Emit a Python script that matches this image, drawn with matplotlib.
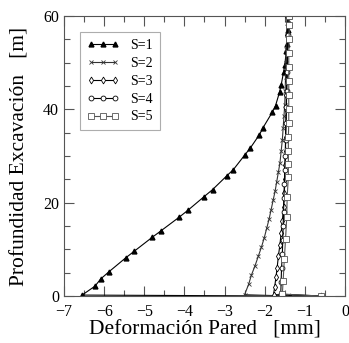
import matplotlib
matplotlib.use('Agg')
import matplotlib.pyplot as plt
from matplotlib.ticker import MultipleLocator

plt.rcParams['font.family'] = ['Liberation Serif', 'DejaVu Serif']

# S=1
x1 = [-1.38, -6.55, -6.23, -6.08, -5.88, -5.46, -5.25, -4.80, -4.58, -4.13, -3.91,
      -3.51, -3.30, -2.94, -2.78, -2.49, -2.36, -2.13, -2.04, -1.81, -1.73,
      -1.63, -1.59, -1.53, -1.50, -1.46, -1.44, -1.41, -1.40, -1.39]
y1 = [0.0, 0.2, 2.1, 3.7, 5.2, 8.2, 9.6, 12.6, 14.0, 16.9, 18.4,
      21.3, 22.8, 25.8, 27.1, 30.3, 31.7, 34.6, 36.1, 39.4, 40.8,
      43.7, 45.2, 48.0, 49.5, 52.5, 54.0, 57.0, 58.5, 60.0]

# S=2
x2 = [-1.45, -2.50, -2.40, -2.33, -2.24, -2.16, -2.08, -2.01, -1.95, -1.89, -1.84,
      -1.79, -1.74, -1.70, -1.66, -1.62, -1.59, -1.56, -1.54, -1.52, -1.50,
      -1.49, -1.48, -1.47, -1.46, -1.45, -1.44, -1.44]
y2 = [0.0, 0.3, 2.5, 4.5, 6.5, 8.5, 10.5, 12.5, 14.5, 16.5, 18.5,
      20.5, 22.5, 24.5, 26.5, 28.5, 31.0, 33.5, 36.0, 38.5, 41.0,
      44.0, 47.0, 50.0, 53.0, 56.0, 58.5, 60.0]

# S=3
x3 = [-0.60, -1.78, -1.75, -1.72, -1.69, -1.66, -1.62, -1.59, -1.56, -1.53, -1.51,
      -1.50, -1.49, -1.48, -1.48, -1.47, -1.46, -1.46, -1.45, -1.45, -1.44,
      -1.44, -1.44]
y3 = [0.0, 0.3, 2.0, 4.0, 6.0, 8.5, 11.0, 13.5, 16.0, 19.0, 22.0,
      25.0, 28.0, 31.0, 34.0, 37.0, 40.0, 43.0, 46.0, 49.0, 52.0,
      56.0, 60.0]

# S=4
x4 = [-0.60, -1.60, -1.59, -1.58, -1.56, -1.55, -1.54, -1.53, -1.52, -1.51, -1.50,
      -1.49, -1.48, -1.47, -1.46, -1.45, -1.44, -1.43, -1.42, -1.41]
y4 = [0.0, 0.4, 3.0, 6.0, 9.0, 12.0, 15.0, 18.0, 21.0, 24.0, 27.0,
      30.0, 33.5, 37.0, 40.5, 44.0, 48.0, 52.0, 56.0, 60.0]

# S=5
x5 = [-0.60, -1.56, -1.54, -1.51, -1.48, -1.45, -1.44, -1.41, -1.41, -1.41, -1.41,
      -1.40, -1.40, -1.40, -1.40, -1.40, -1.40, -1.39, -1.39, -1.39]
y5 = [0.0, 0.4, 3.3, 8.0, 12.2, 16.9, 21.2, 25.6, 28.3, 31.0, 34.0,
      37.0, 40.0, 43.0, 46.0, 49.0, 52.0, 55.0, 58.0, 60.0]

fig = plt.figure(figsize=(3.49, 3.43), dpi=100)
ax = fig.add_axes([0.1834, 0.137, 0.805, 0.816])

lw = 0.8
ax.plot(x1, y1, '-', color='black', lw=lw, marker='^', ms=3.5, mfc='black', label='S=1')
ax.plot(x2, y2, '-', color='#333333', lw=lw, marker='x', ms=3.5, mew=0.6, label='S=2')
ax.plot(x3, y3, '-', color='black', lw=lw, marker='d', ms=3.5, mfc='white', mew=0.6, label='S=3')
ax.plot(x4, y4, '-', color='black', lw=lw, marker='o', ms=3.5, mfc='white', mew=0.6, label='S=4')
ax.plot(x5, y5, '-', color='#555555', lw=lw, marker='s', ms=4, mfc='white', mew=0.6, label='S=5')

ax.set_xlim(-7, 0)
ax.set_ylim(0, 60)
ax.xaxis.set_major_locator(MultipleLocator(1))
ax.xaxis.set_minor_locator(MultipleLocator(0.5))
ax.yaxis.set_major_locator(MultipleLocator(20))
ax.yaxis.set_minor_locator(MultipleLocator(5))
ax.tick_params(which='both', direction='in', top=True, right=True, labelsize=11.5, color='#555555')
ax.tick_params(which='major', length=7, width=0.8)
ax.tick_params(which='minor', length=4, width=0.8)
ax.tick_params(axis='x', pad=6)
for s in ax.spines.values():
    s.set_color('#555555')
    s.set_linewidth(0.8)

ax.set_xlabel('Deformación Pared   [mm]', fontsize=15.5, labelpad=0)
ax.set_ylabel('Profundidad Excavación   [m]', fontsize=15.5, labelpad=10)

leg = ax.legend(loc='upper left', bbox_to_anchor=(0.057, 0.943), borderaxespad=0,
                numpoints=3, fontsize=10, fancybox=False, handlelength=2.3,
                borderpad=0.5, labelspacing=0.35, handletextpad=0.8)
leg.get_frame().set_edgecolor('#999999')
leg.get_frame().set_linewidth(0.8)

plt.savefig('out.png', dpi=100)
